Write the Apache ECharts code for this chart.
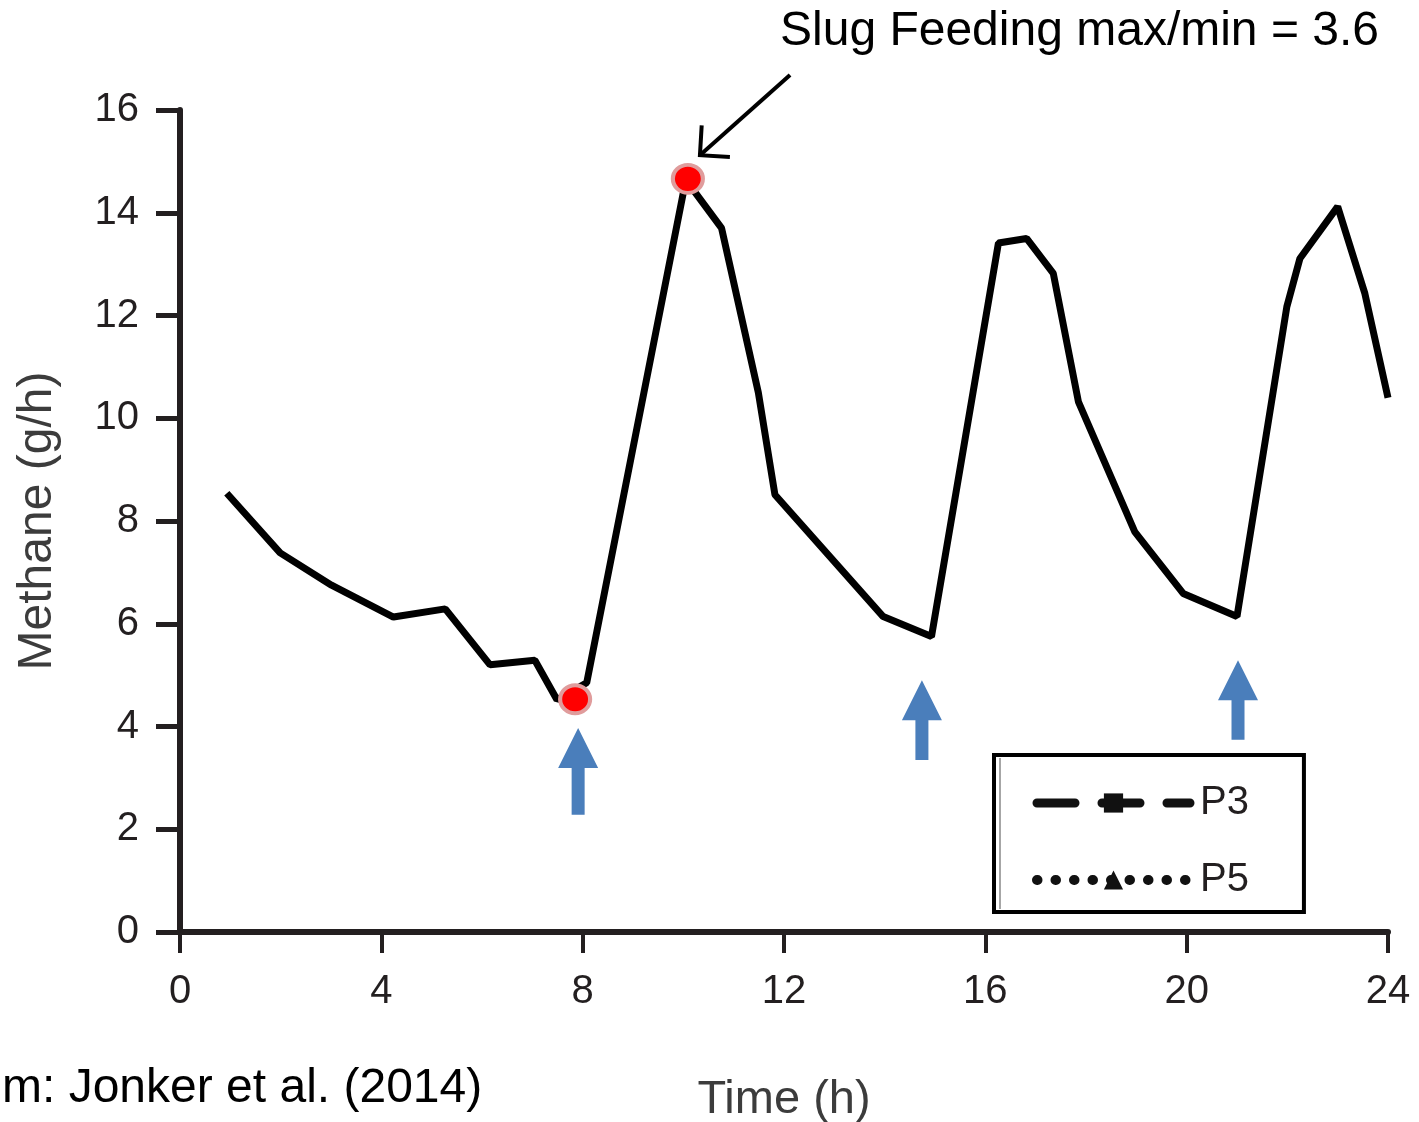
<!DOCTYPE html>
<html>
<head>
<meta charset="utf-8">
<script src="https://cdn.jsdelivr.net/npm/echarts@6/dist/echarts.min.js"></script>
<style>
html,body{margin:0;padding:0;background:#fff;}
#chart{width:1419px;height:1122px;}
</style>
</head>
<body>
<div id="chart"></div>
<script>
// ---- data ----
const methaneLine = [
  [0.93, 8.54], [1.99, 7.38], [3.01, 6.75], [4.24, 6.13], [5.27, 6.29],
  [6.16, 5.20], [7.05, 5.29], [7.49, 4.52], [8.08, 4.85], [10.05, 14.64],
  [10.76, 13.70], [11.49, 10.50], [11.82, 8.51], [13.97, 6.14], [14.93, 5.75],
  [16.26, 13.41], [16.82, 13.50], [17.35, 12.82], [17.85, 10.32], [18.97, 7.79],
  [19.93, 6.59], [21.00, 6.14], [21.99, 12.17], [22.25, 13.11], [23.00, 14.12],
  [23.54, 12.43], [24.00, 10.40]
];
const minMaxPoints = [[7.85, 4.53], [10.09, 14.66]];
// feeding arrows: [x, yBottom, yTip]
const feedArrows = [[7.91, 2.28, 3.97], [14.74, 3.35, 4.90], [21.02, 3.74, 5.29]];
// annotation arrow: [xStart, yStart, xEnd, yEnd]
const annotationArrow = [[12.12, 16.68, 10.33, 15.12]];
const xTicks = { min: 0, max: 24, interval: 4 };
const yTicks = { min: 0, max: 16, interval: 2 };
const legendNames = ['P3', 'P5'];
const titleText = 'Slug Feeding max/min = 3.6';
const sourceText = 'm: Jonker et al. (2014)';
const xName = 'Time (h)';
const yName = 'Methane (g/h)';

const FONT = "'Liberation Sans', Arial, Helvetica, sans-serif";
const AX = '#231f20';

const chart = echarts.init(document.getElementById('chart'), null, { renderer: 'canvas' });

const p3Line = { color: '#111', width: 9, type: [38, 27], cap: 'round' };
const p5Line = { color: '#111', width: 10, type: [0.5, 18], cap: 'round' };

const option = {
  animation: false,
  backgroundColor: '#fff',
  textStyle: { fontFamily: FONT },
  grid: { left: 180, right: 31, top: 110, bottom: 190, containLabel: false, outerBoundsMode: 'none' },
  xAxis: {
    type: 'value', min: xTicks.min, max: xTicks.max, interval: xTicks.interval,
    name: xName, nameLocation: 'middle', nameGap: 145,
    nameTextStyle: { fontSize: 47, color: '#3c3c3c', fontFamily: FONT },
    axisLine: { show: true, lineStyle: { color: AX, width: 6 } },
    axisTick: { show: true, length: 21, lineStyle: { color: AX, width: 4 } },
    axisLabel: { fontSize: 40, color: AX, margin: 40, fontFamily: FONT },
    splitLine: { show: false }
  },
  yAxis: {
    type: 'value', min: yTicks.min, max: yTicks.max, interval: yTicks.interval,
    name: yName, nameLocation: 'middle', nameGap: 118, nameRotate: 90,
    nameTextStyle: { fontSize: 48, color: '#3c3c3c', fontFamily: FONT },
    axisLine: { show: true, lineStyle: { color: AX, width: 6 } },
    axisTick: { show: true, length: 24, lineStyle: { color: AX, width: 5 } },
    axisLabel: { fontSize: 40, color: AX, margin: 41, fontFamily: FONT },
    splitLine: { show: false }
  },
  legend: {
    orient: 'vertical',
    left: 994, top: 755,
    padding: [28, 55, 12, 38],
    itemWidth: 153, itemHeight: 24, itemGap: 37,
    borderColor: '#000', borderWidth: 4,
    selectedMode: false,
    textStyle: { fontSize: 40, color: AX, fontFamily: FONT, padding: [0, 0, 0, 5] },
    data: [
      { name: legendNames[0], itemStyle: { color: '#111', borderWidth: 0 }, lineStyle: p3Line },
      { name: legendNames[1], itemStyle: { color: '#111', borderWidth: 0 }, lineStyle: p5Line }
    ]
  },
  graphic: [
    { type: 'text', left: 780, top: 8, style: { text: titleText, font: '48px ' + FONT, fill: '#000' } },
    { type: 'text', left: 2, top: 1065, style: { text: sourceText, font: '48px ' + FONT, fill: '#000' } },
    { type: 'line', shape: { x1: 1000, y1: 758, x2: 1000, y2: 909 }, style: { stroke: '#888', lineWidth: 1.5 } }
  ],
  series: [
    {
      name: 'methane', type: 'line', data: methaneLine,
      showSymbol: false, symbol: 'none', clip: false,
      lineStyle: { color: '#000', width: 7 }, z: 3
    },
    { name: legendNames[0], type: 'line', data: [], symbol: 'rect', symbolSize: 19,
      itemStyle: { color: '#111' }, lineStyle: p3Line },
    { name: legendNames[1], type: 'line', data: [], symbol: 'triangle', symbolSize: 19,
      itemStyle: { color: '#111' }, lineStyle: p5Line },
    {
      name: 'minmax', type: 'scatter', data: minMaxPoints, symbol: 'circle', symbolSize: [30, 28],
      itemStyle: { color: '#ff0000', borderColor: '#e09c9c', borderWidth: 4, opacity: 1 }, z: 5
    },
    {
      name: 'feeding', type: 'custom', data: feedArrows, z: 4,
      renderItem: function (params, api) {
        const base = api.coord([api.value(0), api.value(1)]);
        const tip = api.coord([api.value(0), api.value(2)]);
        const headH = 40, headW = 40, shaftW = 13;
        const x = base[0];
        const hy = tip[1] + headH;
        return {
          type: 'polygon',
          shape: { points: [
            [x - shaftW / 2, base[1]], [x - shaftW / 2, hy], [x - headW / 2, hy],
            [x, tip[1]], [x + headW / 2, hy], [x + shaftW / 2, hy], [x + shaftW / 2, base[1]]
          ] },
          style: { fill: '#4a7ebb' }
        };
      }
    },
    {
      name: 'annotation', type: 'custom', data: annotationArrow, z: 6, clip: false,
      renderItem: function (params, api) {
        const s = api.coord([api.value(0), api.value(1)]);
        const e = api.coord([api.value(2), api.value(3)]);
        const ang = Math.atan2(s[1] - e[1], s[0] - e[0]);
        const L = 30, a = Math.PI / 4;
        const p1 = [e[0] + L * Math.cos(ang + a), e[1] + L * Math.sin(ang + a)];
        const p2 = [e[0] + L * Math.cos(ang - a), e[1] + L * Math.sin(ang - a)];
        return {
          type: 'group',
          children: [
            { type: 'line', shape: { x1: s[0], y1: s[1], x2: e[0], y2: e[1] }, style: { stroke: '#000', lineWidth: 4 } },
            { type: 'polyline', shape: { points: [p1, e, p2] }, style: { stroke: '#000', lineWidth: 4, fill: null } }
          ]
        };
      }
    }
  ]
};
chart.setOption(option);
</script>
</body>
</html>
